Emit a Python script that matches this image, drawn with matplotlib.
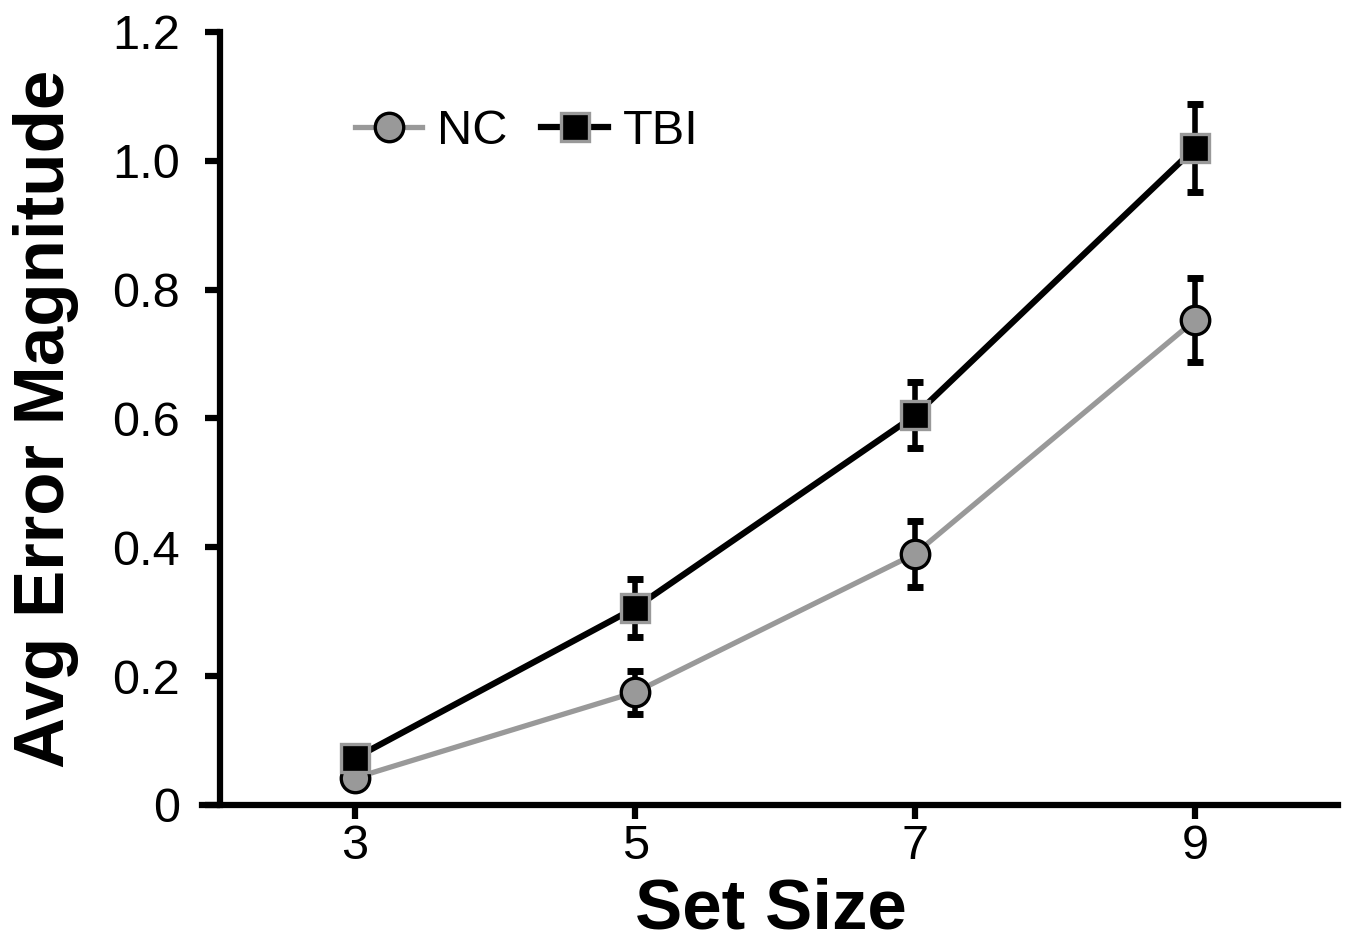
import matplotlib
matplotlib.use('Agg')
import matplotlib.pyplot as plt

set_sizes = [3, 5, 7, 9]
nc_mean = [0.042, 0.175, 0.390, 0.753]
nc_err = [0.010, 0.033, 0.051, 0.065]
tbi_mean = [0.073, 0.306, 0.605, 1.020]
tbi_err = [0.010, 0.045, 0.051, 0.068]
y_ticks = [0, 0.2, 0.4, 0.6, 0.8, 1.0, 1.2]
y_tick_labels = ['0', '0.2', '0.4', '0.6', '0.8', '1.0', '1.2']

plt.rcParams['font.family'] = ['Liberation Sans', 'DejaVu Sans']

gray = '#999999'

fig = plt.figure(figsize=(13.5, 9.42), dpi=100)
ax = fig.add_axes([202 / 1350, 1 - 805 / 942, 1136 / 1350, 773 / 942])

ax.errorbar(set_sizes, nc_mean, yerr=nc_err, fmt='none', ecolor='black',
            elinewidth=4, capsize=6, capthick=5, zorder=2)
nc_line, = ax.plot(set_sizes, nc_mean, color=gray, linewidth=3.8, marker='o',
                   markersize=20.5, markerfacecolor=gray, markeredgecolor='black',
                   markeredgewidth=2.4, zorder=3, label='NC')
ax.errorbar(set_sizes, tbi_mean, yerr=tbi_err, fmt='none', ecolor='black',
            elinewidth=4, capsize=6, capthick=5, zorder=4)
tbi_line, = ax.plot(set_sizes, tbi_mean, color='black', linewidth=4.5, marker='s',
                    markersize=20.5, markerfacecolor='black', markeredgecolor=gray,
                    markeredgewidth=2.4, zorder=5, label='TBI')

ax.set_xlim(1.907, 10.02)
ax.set_ylim(0, 1.2)
ax.spines['left'].set_position(('data', 2.036))
ax.spines['top'].set_visible(False)
ax.spines['right'].set_visible(False)
for s in ['left', 'bottom']:
    ax.spines[s].set_linewidth(4.5)
    ax.spines[s].set_color('black')
    ax.spines[s].set_capstyle('projecting')

ax.set_xticks(set_sizes)
ax.set_xticklabels([str(s) for s in set_sizes])
ax.set_yticks(y_ticks)
ax.set_yticklabels(y_tick_labels)
ax.tick_params(axis='both', colors='black', labelsize=35, width=4.5)
ax.tick_params(axis='x', length=10, pad=4)
ax.tick_params(axis='y', length=11, pad=18)

ax.set_xlabel('Set Size', fontsize=51, fontweight='bold', color='black')
ax.set_ylabel('Avg Error Magnitude', fontsize=51, fontweight='bold', color='black')
ax.xaxis.set_label_coords(0.501, -0.094)
ax.yaxis.set_label_coords(-0.108, 0.5)

ax.legend(handles=[nc_line, tbi_line], loc='center left',
          bbox_to_anchor=(355 / 1350, 1 - 132 / 942), bbox_transform=fig.transFigure,
          ncol=2, frameon=False, fontsize=35, handlelength=1.38, handletextpad=0.3,
          columnspacing=0.7, borderpad=0, borderaxespad=0)

fig.savefig('out.png', dpi=100)
